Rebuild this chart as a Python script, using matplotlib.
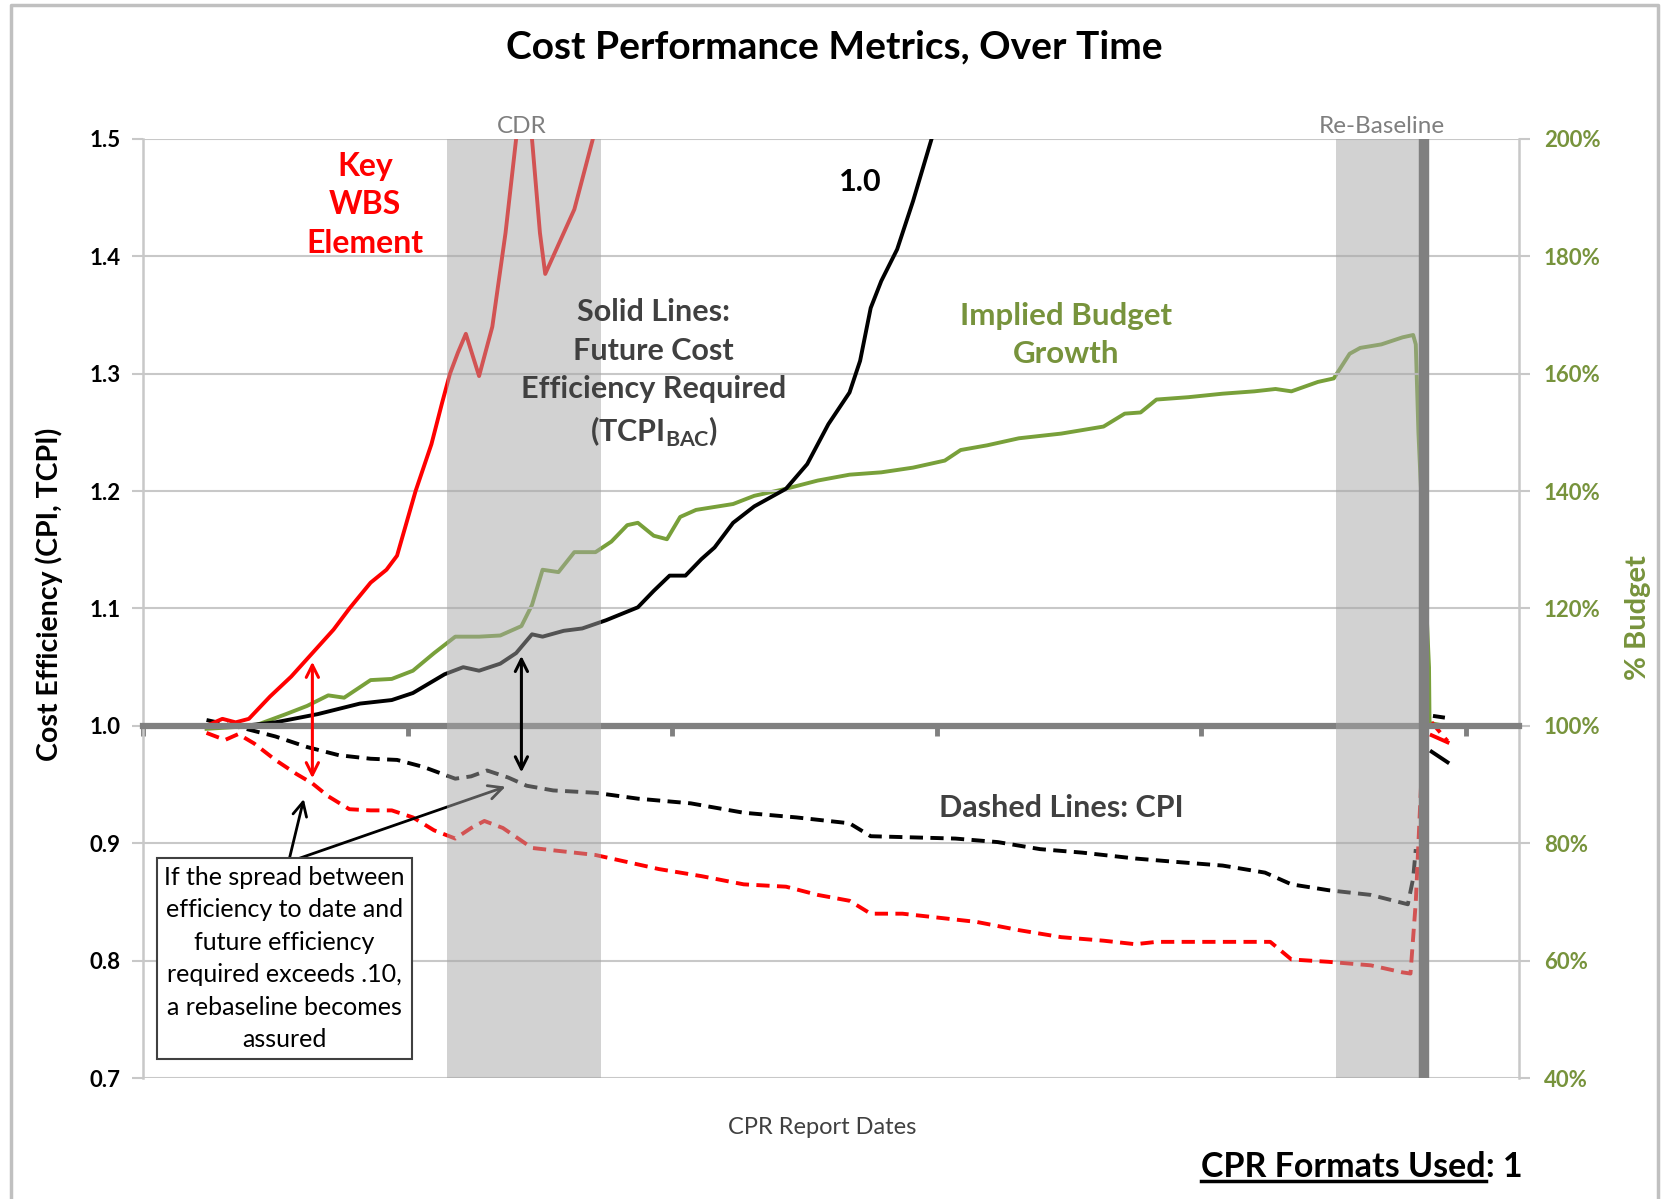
import numpy as np
import matplotlib.pyplot as plt
from matplotlib.lines import Line2D

plt.rcParams['font.family'] = ['Lato', 'DejaVu Sans']
plt.rcParams['mathtext.fontset'] = 'custom'
plt.rcParams['mathtext.rm'] = 'Lato'
plt.rcParams['mathtext.bf'] = 'Lato:bold'

nan = np.nan

# Fechas de reporte CPR (indice de reporte) y valores
# TCPI_BAC del programa (linea negra solida)
tcpi_x = [2.4, 3.8, 5.0, 6.6, 8.2, 9.4, 10.2, 11.4, 12.1, 12.7, 13.5, 14.1, 14.7, 15.1,
          15.9, 16.6, 17.5, 18.7, 19.3, 19.9, 20.5, 21.1, 21.6, 22.3, 23.1, 24.3, 25.1,
          25.9, 26.7, 27.1, 27.5, 27.9, 28.5, 29.1, 29.8, 30.5, nan, 48.7, 49.3]
tcpi = [1.000, 1.000, 1.003, 1.010, 1.019, 1.022, 1.028, 1.044, 1.050, 1.047, 1.053, 1.062,
        1.078, 1.076, 1.081, 1.083, 1.090, 1.101, 1.115, 1.128, 1.128, 1.142, 1.152, 1.173,
        1.187, 1.202, 1.223, 1.257, 1.284, 1.311, 1.356, 1.379, 1.406, 1.447, 1.500, 1.560,
        nan, 0.978, 0.969]

# CPI del programa (linea negra discontinua)
cpi_x = [2.4, 3.0, 3.8, 5.0, 6.2, 7.4, 8.6, 9.6, 10.6, 11.8, 12.4, 13.0, 13.8, 14.5, 15.5,
         17.1, 18.7, 20.7, 22.7, 24.7, 26.7, 27.5, 29.1, 30.7, 32.3, 33.9, 35.5, 37.5, 39.1,
         40.8, 42.4, 43.4, 44.8, 46.4, 47.8, 48.0, 48.1, nan, 48.75, 49.2]
cpi = [1.005, 1.002, 0.998, 0.991, 0.982, 0.975, 0.972, 0.971, 0.965, 0.955, 0.957, 0.962,
       0.956, 0.949, 0.945, 0.943, 0.938, 0.934, 0.926, 0.922, 0.917, 0.906, 0.905, 0.904,
       0.901, 0.895, 0.892, 0.887, 0.884, 0.881, 0.875, 0.865, 0.860, 0.856, 0.848, 0.870,
       0.895, nan, 1.0085, 1.007]

# TCPI del elemento WBS clave (linea roja solida)
wbs_tcpi_x = [2.4, 3.0, 3.5, 4.0, 4.8, 5.6, 6.4, 7.2, 7.8, 8.6, 9.2, 9.6, 10.3, 10.9,
              11.3, 11.6, 11.9, 12.2, 12.7, 13.2, 13.7, 14.1, 14.4, 14.7, 15.0, 15.2,
              15.7, 16.3, 17.0, 17.5, nan, 48.7, 49.3]
wbs_tcpi = [1.000, 1.006, 1.003, 1.006, 1.025, 1.042, 1.062, 1.082, 1.100, 1.122, 1.133,
            1.145, 1.200, 1.240, 1.275, 1.300, 1.318, 1.334, 1.298, 1.340, 1.420, 1.500,
            1.750, 1.500, 1.420, 1.385, 1.410, 1.440, 1.500, 1.560, nan, 0.992, 0.986]

# CPI del elemento WBS clave (linea roja discontinua)
wbs_cpi_x = [2.4, 3.1, 3.6, 4.2, 5.0, 5.8, 6.4, 7.0, 7.8, 8.6, 9.4, 10.2, 11.0, 11.8, 12.4,
             12.9, 13.6, 14.7, 15.9, 17.1, 18.3, 19.5, 21.1, 22.7, 24.3, 25.5, 26.7, 27.5,
             28.7, 29.9, 31.5, 33.1, 34.7, 36.3, 37.5, 38.3, 39.9, 41.6, 42.6, 43.4, 44.8,
             46.4, 47.6, 47.9, 48.1, 48.3, nan, 48.7, 49.3]
wbs_cpi = [0.994, 0.988, 0.993, 0.985, 0.971, 0.959, 0.951, 0.940, 0.929, 0.928, 0.928,
           0.922, 0.911, 0.904, 0.913, 0.919, 0.913, 0.896, 0.893, 0.890, 0.884, 0.878,
           0.872, 0.865, 0.863, 0.856, 0.851, 0.840, 0.840, 0.837, 0.833, 0.826, 0.820,
           0.817, 0.814, 0.816, 0.816, 0.816, 0.816, 0.801, 0.799, 0.796, 0.790, 0.789,
           0.850, 0.950, nan, 1.003, 0.987]

# Crecimiento implicito del presupuesto (% , eje derecho)
budget_x = [2.4, 4.2, 5.4, 6.2, 7.0, 7.6, 8.6, 9.4, 10.2, 11.0, 11.8, 12.7, 13.5, 14.3,
            14.7, 15.1, 15.7, 16.3, 17.1, 17.7, 18.3, 18.7, 19.3, 19.8, 20.3, 20.9, 22.3,
            23.1, 24.3, 25.5, 26.7, 27.9, 29.1, 30.3, 30.9, 31.9, 33.1, 34.7, 36.3, 37.1,
            37.7, 38.3, 39.5, 40.8, 42.0, 42.8, 43.4, 44.4, 45.0, 45.6, 46.0, 46.8, 47.6,
            48.0, 48.1, 48.2, 48.6, 48.62, 49.2]
budget = [99.5, 100.0, 102.0, 103.4, 105.2, 104.8, 107.8, 108.0, 109.4, 112.4, 115.2, 115.2,
          115.4, 117.0, 120.6, 126.6, 126.2, 129.6, 129.6, 131.4, 134.2, 134.6, 132.4, 131.8,
          135.6, 136.8, 137.8, 139.2, 140.4, 141.8, 142.8, 143.2, 144.0, 145.2, 147.0, 147.8,
          149.0, 149.8, 151.0, 153.2, 153.4, 155.6, 156.0, 156.6, 157.0, 157.4, 157.0, 158.6,
          159.2, 163.4, 164.4, 165.0, 166.2, 166.6, 165.0, 150.0, 110.0, 100.5, 100.0]

y_ticks = [0.7, 0.8, 0.9, 1.0, 1.1, 1.2, 1.3, 1.4, 1.5]
pct_ticks = [40, 60, 80, 100, 120, 140, 160, 180, 200]
x_ticks = [0, 10, 20, 30, 40, 50]

cdr_band = (11.5, 17.3)
rebase_band = (45.1, 48.3)
rebase_line = 48.4

GREEN = '#77933C'
GREEN_LINE = '#78A03A'
GRID = '#C8C8C8'
DARK = '#404040'

fig = plt.figure(figsize=(16.65, 11.99), dpi=100)
ax = fig.add_axes([0.0859, 0.1009, 0.8264, 0.7832])
ax2 = ax.twinx()
ax.set_zorder(ax2.get_zorder() + 1)
ax.patch.set_visible(False)
ax2.patch.set_visible(True)
ax2.patch.set_facecolor('white')

# eje derecho: % presupuesto
ax2.plot(budget_x, budget, color=GREEN_LINE, lw=2.8, solid_joinstyle='round')
ax2.set_ylim(40, 200)
ax2.set_yticks(pct_ticks)
ax2.set_yticklabels([f'{p}%' for p in pct_ticks])
ax2.tick_params(axis='y', colors=GRID, length=8, width=1.5, pad=10, labelsize=16,
                labelcolor=GREEN)
for lab in ax2.get_yticklabels():
    lab.set_fontweight('bold')
for s in ['left', 'top', 'bottom']:
    ax2.spines[s].set_visible(False)
ax2.spines['right'].set_color(GRID)
ax2.spines['right'].set_linewidth(1.8)
ax2.set_ylabel('% Budget', color=GREEN, fontsize=21, fontweight='bold')
ax2.yaxis.set_label_coords(1.077, 0.49)

# eje izquierdo: eficiencia
ax.plot(tcpi_x, tcpi, color='black', lw=2.8, solid_joinstyle='round')
ax.plot(cpi_x, cpi, color='black', lw=2.8, ls=(0, (3.4, 1.9)))
ax.plot(wbs_tcpi_x, wbs_tcpi, color='#FF0000', lw=2.8, solid_joinstyle='round')
ax.plot(wbs_cpi_x, wbs_cpi, color='#FF0000', lw=2.8, ls=(0, (3.4, 1.9)))

ax.set_xlim(0, 52)
ax.set_ylim(0.7, 1.5)
ax2.set_xlim(0, 52)
ax.set_yticks(y_ticks)
ax.set_yticklabels([f'{v:.1f}' for v in y_ticks])
ax.set_xticks(x_ticks)
ax.tick_params(axis='x', length=7, width=3.5, colors='#808080', labelbottom=False)
ax.tick_params(axis='y', colors=GRID, length=8, width=1.5, pad=8, labelsize=16,
               labelcolor='black')
for lab in ax.get_yticklabels():
    lab.set_fontweight('bold')
ax.yaxis.grid(True, color=GRID, lw=1.5)
ax.set_axisbelow(True)
ax.spines['top'].set_visible(False)
ax.spines['right'].set_visible(False)
ax.spines['left'].set_color(GRID)
ax.spines['left'].set_linewidth(1.8)
ax.spines['bottom'].set_position(('data', 1.0))
ax.spines['bottom'].set_color('#808080')
ax.spines['bottom'].set_linewidth(4.5)
ax.set_ylabel('Cost Efficiency (CPI, TCPI)', fontsize=20.5, fontweight='bold')
ax.yaxis.set_label_coords(-0.058, 0.515)

# flechas desde el recuadro (quedan bajo las bandas)
box_pt = (5.5, 0.884)
ax.annotate('', xy=(6.1, 0.940), xytext=box_pt,
            arrowprops=dict(arrowstyle='->', color='black', lw=2, mutation_scale=25), zorder=2.2)
ax.annotate('', xy=(13.8, 0.949), xytext=box_pt,
            arrowprops=dict(arrowstyle='->', color='black', lw=2, mutation_scale=25), zorder=2.2)

# bandas CDR y re-baseline
ax.axvspan(*cdr_band, color='#A6A6A6', alpha=0.5, lw=0, zorder=3)
ax.axvspan(*rebase_band, color='#A6A6A6', alpha=0.5, lw=0, zorder=3)
ax.axvline(rebase_line, color='#808080', lw=7.5, zorder=3.5)
ax.text(sum(cdr_band) / 2 - 0.1, 1.502, 'CDR', ha='center', va='bottom', fontsize=17.5,
        color='#7F7F7F')
ax.text(46.8, 1.502, 'Re-Baseline', ha='center', va='bottom', fontsize=17.5, color='#7F7F7F')

# flechas dobles de diferencia
ax.annotate('', xy=(6.4, 1.057), xytext=(6.4, 0.953),
            arrowprops=dict(arrowstyle='<->', color='#FF0000', lw=2.2, mutation_scale=22), zorder=5)
ax.annotate('', xy=(14.3, 1.062), xytext=(14.3, 0.958),
            arrowprops=dict(arrowstyle='<->', color='black', lw=2.2, mutation_scale=22), zorder=5)

# textos
ax.text(8.4, 1.444, 'Key\nWBS\nElement', ha='center', va='center', color='#FF0000',
        fontsize=23, fontweight='bold', linespacing=1.4, zorder=6)
ax.text(27.1, 1.463, '1.0', ha='center', va='center', color='black', fontsize=22,
        fontweight='bold', zorder=6)
ax.text(19.3, 1.300, 'Solid Lines:\nFuture Cost\nEfficiency Required\n(TCPI$_{\\mathbf{BAC}}$)',
        ha='center', va='center', color=DARK, fontsize=22, fontweight='bold',
        linespacing=1.45, zorder=6)
ax.text(34.9, 1.333, 'Implied Budget\nGrowth', ha='center', va='center', color=GREEN,
        fontsize=22.5, fontweight='bold', linespacing=1.4, zorder=6)
ax.text(34.7, 0.930, 'Dashed Lines: CPI', ha='center', va='center', color=DARK,
        fontsize=22, fontweight='bold', zorder=6)
ax.text(5.35, 0.802, 'If the spread between\nefficiency to date and\nfuture efficiency\n'
        'required exceeds .10,\na rebaseline becomes\nassured',
        ha='center', va='center', color='black', fontsize=18, linespacing=1.5, zorder=6,
        bbox=dict(boxstyle='square,pad=0.3', fc='white', ec='#404040', lw=1.5))

# titulo y etiquetas de figura
fig.text(0.501, 0.961, 'Cost Performance Metrics, Over Time', ha='center', va='center',
         fontsize=28, fontweight='bold')
fig.text(0.494, 0.060, 'CPR Report Dates', ha='center', va='center', fontsize=17,
         color=DARK)
t1 = fig.text(0.7215, 0.0184, 'CPR Formats Used', ha='left', va='baseline', fontsize=24.5,
              fontweight='bold')
fig.canvas.draw()
bb = t1.get_window_extent(fig.canvas.get_renderer()).transformed(fig.transFigure.inverted())
fig.text(bb.x1, 0.0184, ': 1', ha='left', va='baseline', fontsize=24.5, fontweight='bold')
fig.add_artist(Line2D([bb.x0, bb.x1], [0.0150, 0.0150], color='black', lw=2.5))

# marco de la figura
fig.add_artist(Line2D([0.0064, 0.0064, 0.996, 0.996], [0.0, 0.9956, 0.9956, 0.0],
                      color='#C0C0C0', lw=2.5))

fig.savefig('out.png', dpi=100)
